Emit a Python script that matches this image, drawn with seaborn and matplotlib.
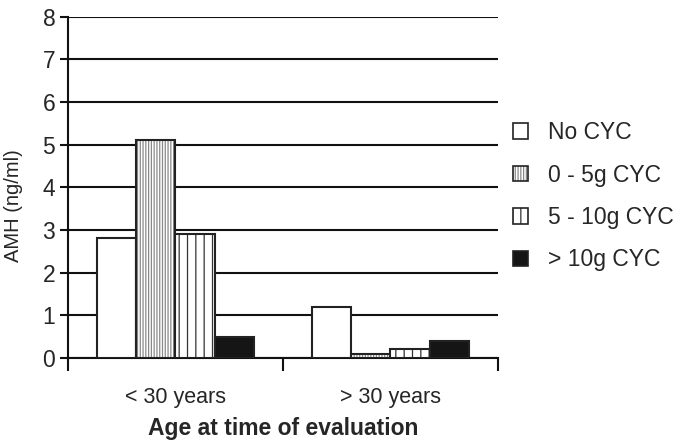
import matplotlib
matplotlib.use("Agg")
import matplotlib.pyplot as plt
import matplotlib.colors as mcolors
import seaborn as sns
import pandas as pd
from matplotlib.patches import Patch

categories = ["< 30 years", "> 30 years"]
groups = ["No CYC", "0 - 5g CYC", "5 - 10g CYC", "> 10g CYC"]
no_cyc = [2.82, 1.2]
cyc_0_5 = [5.1, 0.1]
cyc_5_10 = [2.9, 0.2]
cyc_10 = [0.5, 0.4]

rows = []
for g, vals in zip(groups, [no_cyc, cyc_0_5, cyc_5_10, cyc_10]):
    for c, v in zip(categories, vals):
        rows.append({"Age": c, "Group": g, "AMH": v})
df = pd.DataFrame(rows)

sns.set_style("white")
plt.rcParams["font.family"] = ["Liberation Sans", "DejaVu Sans"]
plt.rcParams["hatch.linewidth"] = 0.9

fig = plt.figure(figsize=(6.85, 4.43), dpi=100)
ax = fig.add_axes([0.099, 0.192, 0.628, 0.77])

palette = {"No CYC": "white", "0 - 5g CYC": "white", "5 - 10g CYC": "white", "> 10g CYC": "#151515"}
sns.barplot(data=df, x="Age", y="AMH", hue="Group", hue_order=groups, order=categories,
            palette=palette, edgecolor="#222222", linewidth=1.5, width=0.73,
            ax=ax, legend=False, zorder=3)

hatches = {"No CYC": "", "0 - 5g CYC": "||||||", "5 - 10g CYC": "||", "> 10g CYC": ""}
hatch_colors = {"No CYC": "#222222", "0 - 5g CYC": "#8a8a8a", "5 - 10g CYC": "#333333", "> 10g CYC": "#222222"}

def style_patch(p, g):
    p.set_hatch(hatches[g])
    p._hatch_color = mcolors.to_rgba(hatch_colors[g])

for cont, g in zip(ax.containers, groups):
    for bar in cont:
        style_patch(bar, g)

ax.set_ylim(0, 8)
ax.set_xlim(-0.5, 1.5)
ax.set_yticks(range(0, 9))
ax.yaxis.grid(True, color="#111111", linewidth=1.5, zorder=0)
ax.set_axisbelow(True)
for s in ["top", "right"]:
    ax.spines[s].set_visible(False)
for s in ["left", "bottom"]:
    ax.spines[s].set_color("#111111")
    ax.spines[s].set_linewidth(1.5)

ax.set_xticks([0, 1])
ax.set_xticklabels(categories)
ax.tick_params(axis="x", which="major", bottom=True, length=0, labelsize=15.5, pad=21)
ax.set_xticks([-0.5, 0.5, 1.5], minor=True)
ax.tick_params(axis="x", which="minor", bottom=True, length=9, width=1.5, color="#111111", direction="out")
ax.tick_params(axis="y", left=True, length=6, width=1.5, color="#111111", direction="out", labelsize=16.5, pad=3)
ax.set_ylabel("AMH (ng/ml)", fontsize=14.5)
ax.yaxis.set_label_coords(-0.105, 0.446)
ax.set_xlabel("Age at time of evaluation", fontsize=16.5, fontweight="bold")
ax.xaxis.set_label_coords(0.5, -0.172)

handles = []
for g in groups:
    h = Patch(facecolor=palette[g], edgecolor="#222222", linewidth=1.2, label=g)
    style_patch(h, g)
    handles.append(h)
leg = fig.legend(handles=handles, loc="center left", bbox_to_anchor=(0.749, 0.557), frameon=False,
                 fontsize=16.5, handlelength=0.655, handleheight=0.655, labelspacing=0.85,
                 handletextpad=0.87, borderaxespad=0, borderpad=0)
for lp, g in zip(leg.get_patches(), groups):
    style_patch(lp, g)

fig.savefig("out.png", dpi=100)
